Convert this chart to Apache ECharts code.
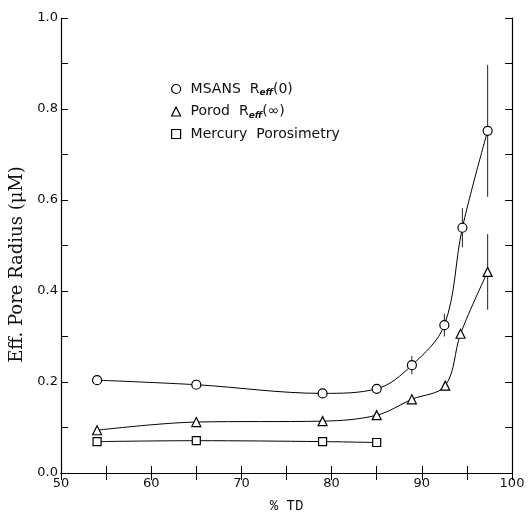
<!DOCTYPE html>
<html><head><meta charset="utf-8">
<script src="https://cdn.jsdelivr.net/npm/echarts@6/dist/echarts.min.js"></script>
<style>html,body{margin:0;padding:0;background:#fff}#c{width:528px;height:518px}</style>
</head><body><div id="c"></div>
<script>
// MSANS Reff(0)
const msansX = [54, 65, 79, 85, 88.9, 92.5, 94.5, 97.3];
const msansY = [0.204, 0.194, 0.175, 0.185, 0.237, 0.325, 0.539, 0.752];
const msansErr = [0, 0, 0, 0, 0.02, 0.025, 0.043, 0.145];
// Porod Reff(inf)
const porodX = [54, 65, 79, 85, 88.9, 92.6, 94.3, 97.3];
const porodY = [0.094, 0.112, 0.114, 0.127, 0.162, 0.192, 0.306, 0.442];
const porodErr = [0, 0, 0, 0, 0, 0, 0, 0.083];
// Mercury porosimetry
const hgX = [54, 65, 79, 85];
const hgY = [0.069, 0.071, 0.069, 0.067];

const xTicks = [50, 60, 70, 80, 90, 100];
const yTicks = [0.0, 0.2, 0.4, 0.6, 0.8, 1.0];

const pairs = (xs, ys) => xs.map((x, i) => [x, ys[i]]);
const errData = [];
msansX.forEach((x, i) => { if (msansErr[i] > 0) errData.push([x, msansY[i] - msansErr[i], msansY[i] + msansErr[i]]); });
porodX.forEach((x, i) => { if (porodErr[i] > 0) errData.push([x, porodY[i] - porodErr[i], porodY[i] + porodErr[i]]); });

const font = 'DejaVu Sans';
const chart = echarts.init(document.getElementById('c'));
chart.setOption({
  animation: false,
  backgroundColor: '#fff',
  grid: { left: 61, right: 16, top: 18, bottom: 36, containLabel: false },
  xAxis: [{
    type: 'value', min: 50, max: 100, interval: 5,
    name: '% TD', nameLocation: 'middle', nameGap: 26,
    nameTextStyle: { fontFamily: 'Liberation Mono', fontSize: 14, color: '#111' },
    axisLine: { lineStyle: { color: '#000', width: 1.2 } },
    axisTick: { inside: true, length: 7, lineStyle: { color: '#000' } },
    axisLabel: { fontFamily: font, fontSize: 13, color: '#111', margin: 4,
      formatter: v => xTicks.includes(v) ? String(v) : '' },
    splitLine: { show: false }
  }, {
    type: 'value', min: 50, max: 100, interval: 5, position: 'top',
    axisLine: { show: true, lineStyle: { color: '#000', width: 1.2 } },
    axisTick: { inside: true, length: 7, lineStyle: { color: '#000' } },
    axisLabel: { show: false }, splitLine: { show: false }
  }],
  yAxis: [{
    type: 'value', min: 0, max: 1.0, interval: 0.1,
    name: 'Eff. Pore Radius (\u03BCM)', nameLocation: 'middle', nameGap: 35,
    nameTextStyle: { fontFamily: 'DejaVu Serif', fontSize: 18, color: '#111', padding: [0, 38, 0, 0] },
    axisLine: { lineStyle: { color: '#000', width: 1.2 } },
    axisTick: { inside: true, length: 7, lineStyle: { color: '#000' } },
    axisLabel: { fontFamily: font, fontSize: 13, color: '#111', margin: 3,
      formatter: v => { const r = Math.round(v * 10) / 10; return yTicks.some(t => Math.abs(t - r) < 1e-9) ? r.toFixed(1) : ''; } },
    splitLine: { show: false }
  }, {
    type: 'value', min: 0, max: 1.0, interval: 0.1, position: 'right',
    axisLine: { show: true, lineStyle: { color: '#000', width: 1.2 } },
    axisTick: { inside: true, length: 7, lineStyle: { color: '#000' } },
    axisLabel: { show: false }, splitLine: { show: false }
  }],
  legend: {
    orient: 'vertical', left: 166, top: 77, itemGap: 7, itemWidth: 9, itemHeight: 9,
    itemStyle: { color: '#fff', borderColor: '#000', borderWidth: 1.2 },
    data: [{ name: 'MSANS', icon: 'circle' }, { name: 'Porod', icon: 'triangle' }, { name: 'Mercury', icon: 'rect' }],
    formatter: n => n === 'MSANS' ? 'MSANS  R{sub|eff}(0)' : n === 'Porod' ? 'Porod  R{sub|eff}(\u221E)' : 'Mercury  Porosimetry',
    textStyle: { fontFamily: font, fontSize: 14, color: '#111', padding: [0, 0, 0, 5],
      rich: { sub: { fontFamily: font, fontSize: 9, fontWeight: 'bold', fontStyle: 'italic', color: '#111', padding: [8, 0, 0, 0] } } }
  },
  series: [
    { name: 'MSANS', type: 'line', data: pairs(msansX, msansY), smooth: 0.35,
      symbol: 'circle', symbolSize: 9, showAllSymbol: true,
      lineStyle: { color: '#000', width: 1 },
      itemStyle: { color: '#fff', borderColor: '#000', borderWidth: 1.2 }, z: 3 },
    { name: 'Porod', type: 'line', data: pairs(porodX, porodY), smooth: 0.35,
      symbol: 'triangle', symbolSize: 9,
      lineStyle: { color: '#000', width: 1 },
      itemStyle: { color: '#fff', borderColor: '#000', borderWidth: 1.2 }, z: 3 },
    { name: 'Mercury', type: 'line', data: pairs(hgX, hgY), smooth: 0.35,
      symbol: 'rect', symbolSize: 8,
      lineStyle: { color: '#000', width: 1 },
      itemStyle: { color: '#fff', borderColor: '#000', borderWidth: 1.2 }, z: 3 },
    { name: 'err', type: 'custom', data: errData, z: 2,
      renderItem: (params, api) => {
        const lo = api.coord([api.value(0), api.value(1)]);
        const hi = api.coord([api.value(0), api.value(2)]);
        return { type: 'line', shape: { x1: lo[0], y1: lo[1], x2: hi[0], y2: hi[1] },
          style: { stroke: '#222', lineWidth: 1 } };
      } }
  ]
});
</script></body></html>
